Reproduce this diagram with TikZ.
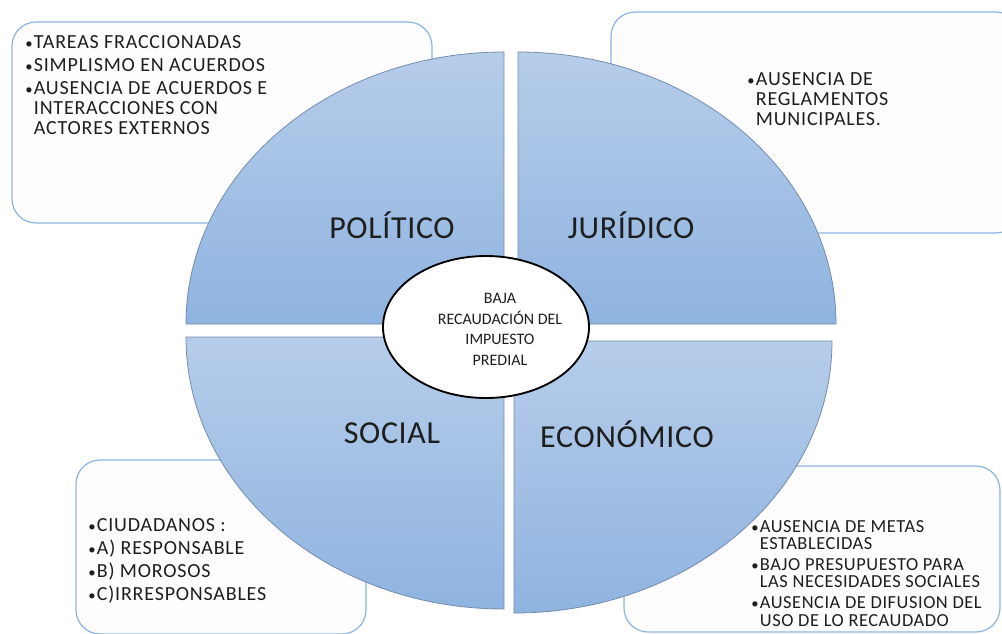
\documentclass[tikz,border=0pt]{standalone}
\usepackage{fontspec}
\setmainfont{Carlito}
\usetikzlibrary{shapes.geometric}
\definecolor{quadtop}{RGB}{182,205,234}
\definecolor{quadbot}{RGB}{143,179,224}
\definecolor{quadline}{RGB}{118,140,172}
\definecolor{boxline}{RGB}{141,180,226}
\definecolor{boxfill}{RGB}{253,253,253}
\definecolor{txt}{RGB}{30,30,30}
\newcommand\bul{\makebox[6.5pt][l]{\fontsize{11}{11}\selectfont\textbullet}}
\begin{document}
\begin{tikzpicture}[x=0.75pt,y=-0.75pt,
  infobox/.style={draw=boxline, line width=0.9pt, fill=boxfill, rounded corners=18pt},
  quad/.style={draw=quadline, line width=0.6pt, top color=quadtop, bottom color=quadbot},
  boxtext/.style={inner sep=0pt, anchor=base west, text=txt, font=\fontsize{15}{15}\selectfont\addfontfeature{LetterSpace=4}},
  quadlabel/.style={inner sep=0pt, anchor=base, text=txt, font=\fontsize{24}{30}\selectfont\addfontfeature{LetterSpace=2}},
  coretext/.style={inner sep=0pt, anchor=base, text=txt, font=\fontsize{12}{15.5}\selectfont}
]
\useasboundingbox (0,0) rectangle (1002,633);
% boxes behind
\draw[infobox] (12,22) rectangle (432,223);
\draw[infobox] (611,12) rectangle (1020,233);
\draw[infobox] (76,460) rectangle (366,634);
\draw[infobox] (624,466) rectangle (1000,632);
% quadrants
\path[quad] (504,324) -- (186,324) arc[start angle=180, end angle=270, x radius=318, y radius=272] -- cycle;
\path[quad] (518,324) -- (836,324) arc[start angle=0, end angle=-90, x radius=318, y radius=272] -- cycle;
\path[quad] (504,337) -- (186,337) arc[start angle=180, end angle=90, x radius=318, y radius=272] -- cycle;
\path[quad] (514,341) -- (832,341) arc[start angle=0, end angle=90, x radius=318, y radius=272] -- cycle;
% labels
\node[quadlabel] (politico) at (392,238) {POLÍTICO};
\node[quadlabel] (juridico) at (631,238) {JURÍDICO};
\node[quadlabel] (social) at (392,443) {SOCIAL};
\node[quadlabel] (economico) at (627,447) {ECONÓMICO};
% center
\node[draw=black, line width=1.4pt, fill=white, ellipse, minimum width=154.5pt, minimum height=106.5pt, inner sep=0pt] (core) at (486,327) {};
\node[coretext] (coretxt) at (500,303.5) {\begin{tabular}[t]{@{}c@{}}BAJA\\ RECAUDACIÓN DEL\\ IMPUESTO\\ PREDIAL\end{tabular}};
% box texts
\node[boxtext] (politicolist) at (25,48) {\begin{tabular}[t]{@{}l@{}l@{}}\bul & TAREAS FRACCIONADAS\\[2.25pt] \bul & SIMPLISMO EN ACUERDOS\\[2.25pt] \bul & AUSENCIA DE ACUERDOS E\\ & INTERACCIONES CON\\ & ACTORES EXTERNOS\end{tabular}};
\node[boxtext] (juridicolist) at (747,85) {\begin{tabular}[t]{@{}l@{}l@{}}\bul & AUSENCIA DE\\ & REGLAMENTOS\\ & MUNICIPALES.\end{tabular}};
\node[boxtext] (sociallist) at (88,531) {\begin{tabular}[t]{@{}l@{}l@{}}\bul & CIUDADANOS :\\[2pt] \bul & A) RESPONSABLE\\[2pt] \bul & B) MOROSOS\\[2pt] \bul & C)IRRESPONSABLES\end{tabular}};
\node[boxtext, font=\fontsize{13.8}{13.1}\selectfont\addfontfeature{LetterSpace=3}] (economicolist) at (751,532) {\begin{tabular}[t]{@{}l@{}l@{}}\bul & AUSENCIA DE METAS\\ & ESTABLECIDAS\\[2.65pt] \bul & BAJO PRESUPUESTO PARA\\ & LAS NECESIDADES SOCIALES\\[2.65pt] \bul & AUSENCIA DE DIFUSION DEL\\ & USO DE LO RECAUDADO\end{tabular}};
\end{tikzpicture}
\end{document}
